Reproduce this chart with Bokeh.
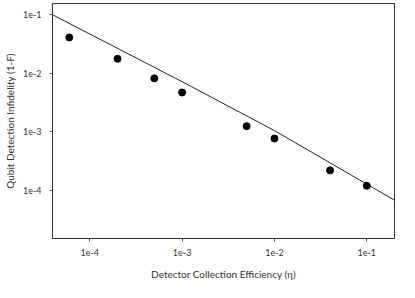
from bokeh.plotting import figure
from bokeh.models import Range1d, FixedTicker
from bokeh.embed import file_html
from bokeh.resources import INLINE

# Measured data (detector collection efficiency vs qubit detection infidelity)
eff = [6e-5, 2e-4, 5e-4, 1e-3, 5e-3, 1e-2, 4e-2, 1e-1]
infid = [0.041, 0.0177, 0.0082, 0.0047, 0.00125, 0.00077, 0.00022, 0.00012]

# Theory curve
theory_x = [3.95e-5, 1e-3, 1e-2, 0.2]
theory_y = [0.1, 7.2e-3, 1.05e-3, 6.8e-5]

x_ticks = [1e-4, 1e-3, 1e-2, 1e-1]
x_labels = ["1e-4", "1e-3", "1e-2", "1e-1"]
y_ticks = [1e-4, 1e-3, 1e-2, 1e-1]
y_labels = ["1e-4", "1e-3", "1e-2", "1e-1"]

FONT = "Lato"
TXT = "#333333"

p = figure(width=399, height=282, x_axis_type="log", y_axis_type="log",
           x_range=Range1d(3.95e-5, 0.1995), y_range=Range1d(1.51e-5, 0.1556),
           output_backend="svg", toolbar_location=None,
           min_border_left=50, min_border_right=5, min_border_top=3, min_border_bottom=42)

p.line(theory_x, theory_y, line_color="#222222", line_width=1)
p.scatter(eff, infid, size=7, fill_color="black", line_color="black")

p.xgrid.visible = False
p.ygrid.visible = False
p.outline_line_color = "#333333"
p.outline_line_width = 1
p.background_fill_color = "white"
p.border_fill_color = "white"

p.xaxis.ticker = FixedTicker(ticks=x_ticks)
p.yaxis.ticker = FixedTicker(ticks=y_ticks)
p.xaxis.major_label_overrides = {t: l for t, l in zip(x_ticks, x_labels)}
p.yaxis.major_label_overrides = {t: l for t, l in zip(y_ticks, y_labels)}
p.xaxis.axis_label = "Detector Collection Efficiency (η)"
p.yaxis.axis_label = "Qubit Detection Infidelity (1-F)"

for ax in (p.xaxis, p.yaxis):
    ax.axis_line_color = "#333333"
    ax.major_tick_line_color = "#555555"
    ax.major_tick_in = 0
    ax.major_tick_out = 3
    ax.minor_tick_line_color = None
    ax.major_label_text_font = FONT
    ax.major_label_text_font_size = "9px"
    ax.major_label_text_color = TXT
    ax.axis_label_text_font = FONT
    ax.axis_label_text_font_size = "10px"
    ax.axis_label_text_font_style = "normal"
    ax.axis_label_text_color = TXT

p.xaxis.major_label_standoff = 7
p.xaxis.axis_label_standoff = 9
p.yaxis.major_label_standoff = 8
p.yaxis.axis_label_standoff = 4

open("out.html", "w").write(file_html(p, INLINE))
